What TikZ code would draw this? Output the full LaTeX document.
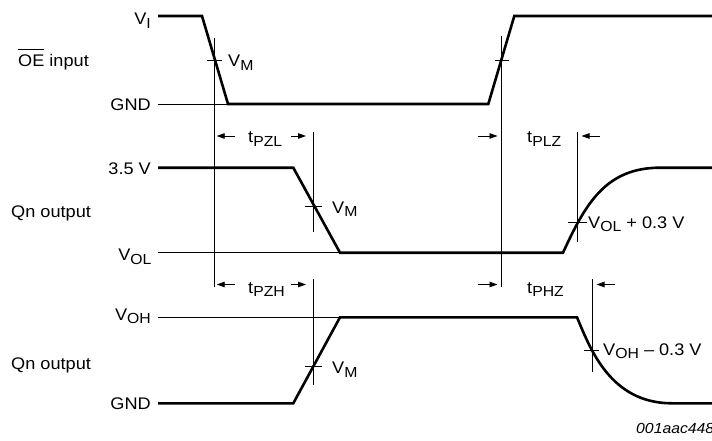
\documentclass[tikz,border=0pt]{standalone}
\usepackage{fontspec}
\setmainfont{Liberation Sans}
\usetikzlibrary{arrows.meta}
\newcommand{\lsub}[1]{\raisebox{-3.8pt}{\fontsize{14.6}{16}\selectfont #1}}
\newcommand{\ovbar}[1]{\begingroup\setbox0\hbox{#1}\rlap{\rule[\dimexpr\ht0+0.32em\relax]{\wd0}{0.06em}}\box0\endgroup}
\tikzset{
  wave/.style={line width=2.6pt},
  thinref/.style={line width=0.9pt},
  mark line/.style={line width=0.9pt},
  tarrow/.style={line width=0.9pt,-{Triangle[length=8pt,width=5.5pt]}},
  lbl/.style={inner sep=0pt,font=\fontsize{16.8}{20}\selectfont,xscale=1.08},
  lbe/.style={lbl,anchor=base east},
  lbw/.style={lbl,anchor=base west},
}
\begin{document}
\begin{tikzpicture}[x=1pt,y=-1pt]
\useasboundingbox (0,0) rectangle (712,441);

% ---------- labels ----------
\node[lbe] (vi) at (151,24.5) {V\lsub{I}};
\node[lbw] (oe) at (18,66.7) {\ovbar{OE} input};
\node[lbe] (gnd1) at (151,111) {GND};
\node[lbe] (v35) at (151,174) {3.5 V};
\node[lbw] (qn1) at (11,217.3) {Qn output};
\node[lbe] (vol) at (151.7,260.7) {V\lsub{OL}};
\node[lbe] (voh) at (151,320) {V\lsub{OH}};
\node[lbw] (qn2) at (11,369) {Qn output};
\node[lbe] (gnd2) at (151,409.3) {GND};

\node[lbw] (vm1) at (228,67) {V\lsub{M}};
\node[lbw] (vm2) at (332,213) {V\lsub{M}};
\node[lbw] (vm3) at (332,373.3) {V\lsub{M}};
\node[lbw] (volp) at (588,228) {V\lsub{OL} + 0.3 V};
\node[lbw] (vohm) at (603,355) {V\lsub{OH} – 0.3 V};

\node[lbw] (tpzl) at (248,142.7) {t\lsub{PZL}};
\node[lbw] (tplz) at (527,142.7) {t\lsub{PLZ}};
\node[lbw] (tpzh) at (248,293) {t\lsub{PZH}};
\node[lbw] (tphz) at (527,293) {t\lsub{PHZ}};

\node[inner sep=0pt,anchor=base west,xscale=1.08,font=\fontsize{14.6}{17}\selectfont\itshape] (code) at (636,433) {001aac448};

% ---------- thin reference lines ----------
\draw[thinref] (158,104) -- (228,104);
\draw[thinref] (158,252.7) -- (340,252.7);
\draw[thinref] (158,317.3) -- (340,317.3);

% ---------- vertical marker lines ----------
\draw[mark line] (214,38) -- (214,286.7);
\draw[mark line] (501.5,36) -- (501.5,286.7);
\draw[mark line] (313,132) -- (313,232);
\draw[mark line] (313,279.3) -- (313,385);
\draw[mark line] (577.5,132) -- (577.5,241.7);
\draw[mark line] (592,279) -- (592,371.7);

% ---------- crossing ticks ----------
\draw[mark line] (207,60) -- (222,60);
\draw[mark line] (495,60) -- (509,60);
\draw[mark line] (305,206) -- (322,206);
\draw[mark line] (568,222.7) -- (587,222.7);
\draw[mark line] (305,366.7) -- (322,366.7);
\draw[mark line] (584,350) -- (599,350);

% ---------- timing arrows ----------
\draw[tarrow] (235,136) -- (216.7,136);
\draw[tarrow] (291,136) -- (306,136);
\draw[tarrow] (478.3,136) -- (497.5,136);
\draw[tarrow] (600,136) -- (581.5,136);
\draw[tarrow] (235,284.5) -- (216.7,284.5);
\draw[tarrow] (291,284.5) -- (306,284.5);
\draw[tarrow] (478.3,284.5) -- (497.5,284.5);
\draw[tarrow] (615,284.5) -- (596.5,284.5);

% ---------- waveforms ----------
\draw[wave] (158,16) -- (202,16) -- (228,104) -- (488.3,104) -- (514.3,16) -- (716,16);
\draw[wave] (158,167.7) -- (293.3,167.7) -- (340,252.7) -- (563,252.7)
  .. controls (585,205) and (605,167.7) .. (660,167.7) -- (716,167.7);
\draw[wave] (158,403.3) -- (293.3,403.3) -- (340,317.3) -- (577,317.3)
  .. controls (590,348) and (610,403.3) .. (672,403.3) -- (716,403.3);
\end{tikzpicture}
\end{document}
